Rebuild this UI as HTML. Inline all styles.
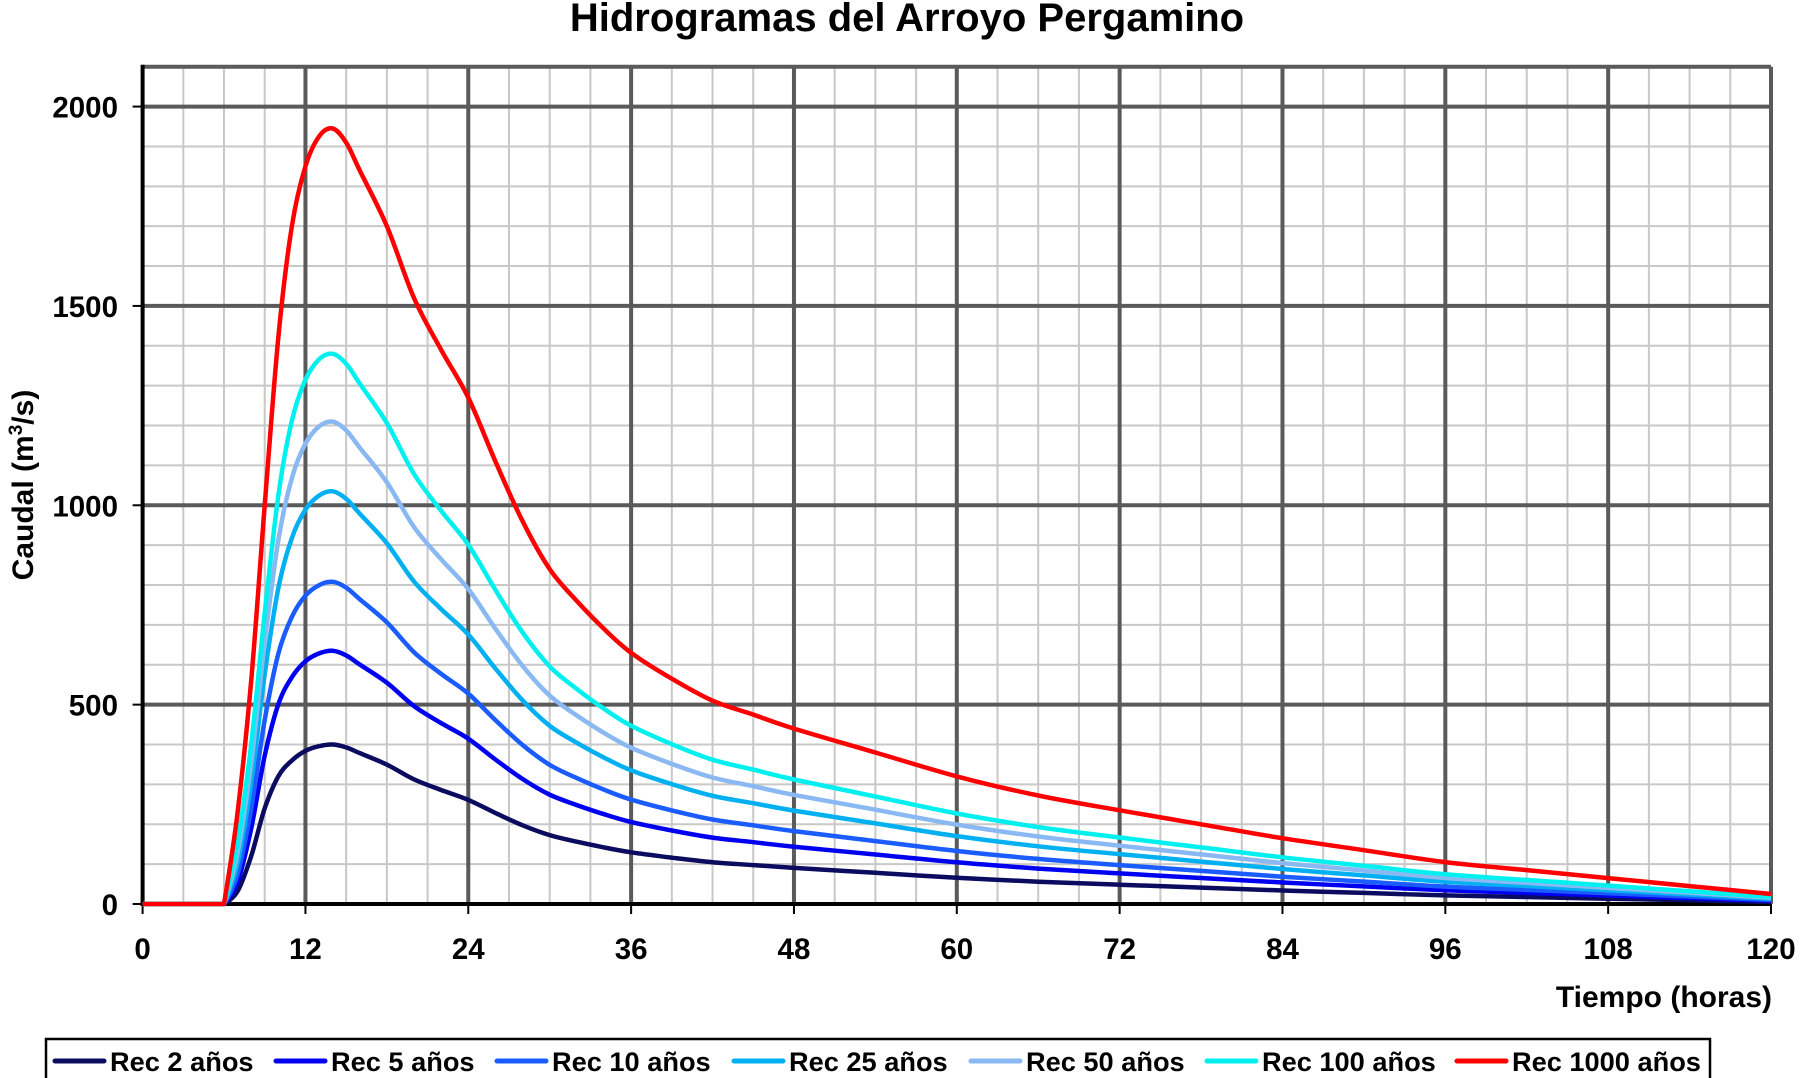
<!DOCTYPE html>
<html><head><meta charset="utf-8"><style>
html,body{margin:0;padding:0;background:#fff;}
svg{display:block;font-family:"Liberation Sans",Arial,sans-serif;font-weight:bold;}
</style></head><body>
<svg id="s" width="1800" height="1078" viewBox="0 0 1800 1078" xmlns="http://www.w3.org/2000/svg">
<text x="907" y="31" font-size="40" text-anchor="middle">Hidrogramas del Arroyo Pergamino</text>
<g id="grid"></g>
<g id="curves" fill="none" stroke-width="4.5" stroke-linejoin="round"></g>
<g font-size="29.5" text-anchor="end" id="ylab"></g>
<g font-size="29.5" text-anchor="middle" id="xlab"></g>
<text x="1772" y="1007" font-size="30" text-anchor="end">Tiempo (horas)</text>
<text transform="translate(33,485) rotate(-90)" font-size="30" text-anchor="middle">Caudal (m<tspan font-size="19" dy="-11">3</tspan><tspan dy="11">/s)</tspan></text>
<rect x="46" y="1039" width="1664" height="45" fill="#fff" stroke="#000" stroke-width="2.5"/>
<g id="leg" font-size="27.2"></g>
</svg>
<script>
var NS="http://www.w3.org/2000/svg";
function el(p,t,a,txt){var e=document.createElementNS(NS,t);for(var k in a)e.setAttribute(k,a[k]);if(txt!=null)e.textContent=txt;document.getElementById(p).appendChild(e);return e;}
var X0=142.6,X1=1771,Y0=904,YT=66.7,k=(Y0-YT)/2100;
function X(t){return X0+(X1-X0)*t/120;}function Y(v){return Y0-v*k;}
for(var t=3;t<120;t+=3){if(t%12)el("grid","line",{x1:X(t),x2:X(t),y1:YT,y2:Y0,stroke:"#c8c8c8","stroke-width":2});}
for(var v=100;v<2100;v+=100){if(v%500)el("grid","line",{x1:X0,x2:X1,y1:Y(v),y2:Y(v),stroke:"#c8c8c8","stroke-width":2});}
for(var t=12;t<=120;t+=12)el("grid","line",{x1:X(t),x2:X(t),y1:YT,y2:Y0,stroke:"#5a5a5a","stroke-width":4});
for(var v=500;v<=2000;v+=500)el("grid","line",{x1:X0,x2:X1,y1:Y(v),y2:Y(v),stroke:"#5a5a5a","stroke-width":4});
el("grid","line",{x1:X0,x2:X1,y1:YT,y2:YT,stroke:"#5a5a5a","stroke-width":4});
el("grid","line",{x1:X0,x2:X0,y1:YT-2,y2:Y0,stroke:"#000","stroke-width":4});
el("grid","line",{x1:X0-2,x2:X1,y1:Y0,y2:Y0,stroke:"#000","stroke-width":4});
for(var t=0;t<=120;t+=12){el("grid","line",{x1:X(t),x2:X(t),y1:Y0,y2:Y0+10,stroke:"#000","stroke-width":2});el("xlab","text",{x:X(t),y:959},t);}
for(var v=0;v<=2000;v+=500){el("grid","line",{x1:X0-10,x2:X0,y1:Y(v),y2:Y(v),stroke:"#000","stroke-width":2});el("ylab","text",{x:118,y:Y(v)+11},v);}
var P=[[0,0],[6,0],[7,230],[8,560],[9,1000],[10,1420],[11,1700],[12,1850],[13,1925],[14,1945],[15,1910],[16,1840],[18,1700],[20,1520],[22,1390],[24,1270],[26,1110],[28,960],[30,840],[32,760],[34,690],[36,630],[39,565],[42,510],[45,475],[48,440],[54,380],[60,320],[66,272],[72,235],[78,200],[84,165],[90,135],[96,105],[102,85],[108,65],[114,45],[120,25]];
var lowF={7:0.08,8:0.3,9:0.6,10:0.8,11:0.9,12:0.96};
var S=[[400,"#0b0b60"],[635,"#0000f0"],[808,"#1a5cff"],[1035,"#00b0f0"],[1210,"#8ab8f2"],[1380,"#00f0f0"],[1945,"#ff0000"]];
function smooth(pts){var d="M"+pts[0][0].toFixed(1)+","+pts[0][1].toFixed(1);
for(var i=0;i<pts.length-1;i++){var p0=pts[Math.max(0,i-1)],p1=pts[i],p2=pts[i+1],p3=pts[Math.min(pts.length-1,i+2)];
var c1=[p1[0]+(p2[0]-p0[0])/6,p1[1]+(p2[1]-p0[1])/6],c2=[p2[0]-(p3[0]-p1[0])/6,p2[1]-(p3[1]-p1[1])/6];
if(i==0){c1=p1;c2=p2;}
if(i==1){c1=p1;}
d+="C"+c1[0].toFixed(1)+","+c1[1].toFixed(1)+" "+c2[0].toFixed(1)+","+c2[1].toFixed(1)+" "+p2[0].toFixed(1)+","+p2[1].toFixed(1);}
return d;}
S.forEach(function(s,si){var a=si/6;var pts=P.map(function(p){var f=p[1]/1945;
if(lowF[p[0]]!==undefined){f=a*f+(1-a)*lowF[p[0]];}
return [X(p[0]),Y(f*s[0])];});el("curves","path",{d:smooth(pts),stroke:s[1]});});
var L=[[55,"Rec 2 años"],[276,"Rec 5 años"],[497,"Rec 10 años"],[734,"Rec 25 años"],[971,"Rec 50 años"],[1207,"Rec 100 años"],[1457,"Rec 1000 años"]];
L.forEach(function(l,i){el("leg","line",{x1:l[0],x2:l[0]+49,y1:1061,y2:1061,stroke:S[i][1],"stroke-width":5,"stroke-linecap":"round"});el("leg","text",{x:l[0]+55,y:1071},l[1]);});
</script>
</body></html>
